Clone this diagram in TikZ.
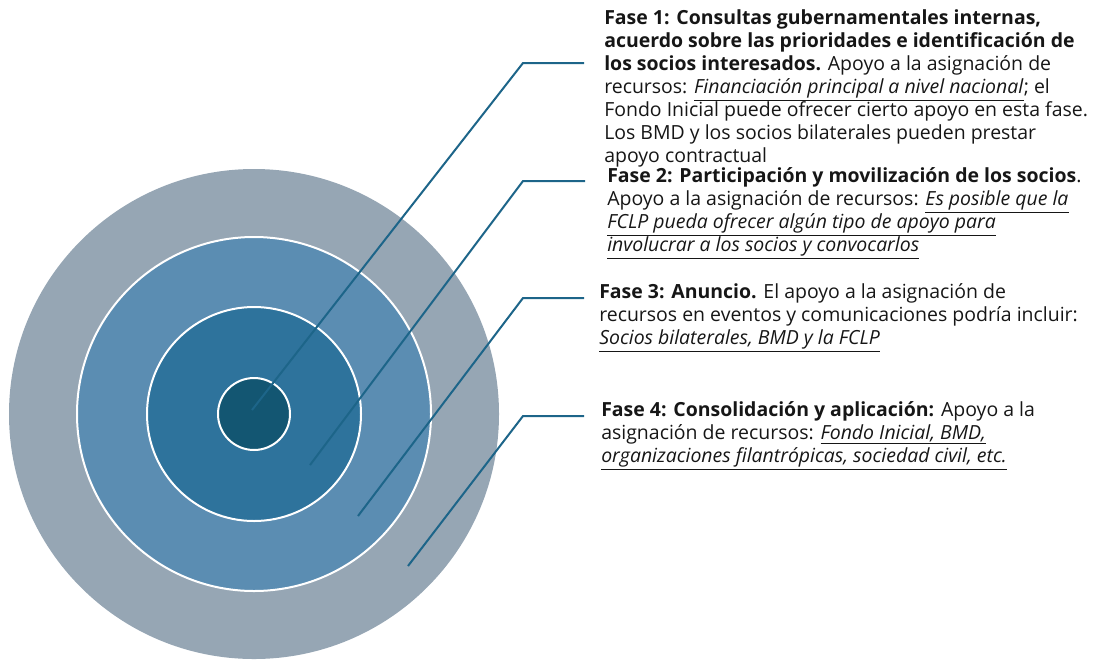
\documentclass[tikz,border=0pt]{standalone}
\usepackage{fontspec}
\setmainfont{Open Sans}
\usetikzlibrary{calc}
\definecolor{anillo1}{HTML}{135672}
\definecolor{anillo2}{HTML}{2E739C}
\definecolor{anillo3}{HTML}{5B8DB2}
\definecolor{anillo4}{HTML}{96A6B4}
\definecolor{guia}{HTML}{1D6589}
\definecolor{texto}{HTML}{161616}
\newcommand{\recurso}[1]{\underline{\textit{#1}}}

\begin{document}
\begin{tikzpicture}[x=0.75pt, y=-0.75pt,
            % x,y in px of the 1094x661 reference
            ring/.style={draw=white, line width=1.5pt},
            leader/.style={draw=guia, line width=1.5pt},
            fase/.style={anchor=north west, inner sep=0pt, align=left, text=texto,
                         font=\fontsize{14.6pt}{17.25pt}\selectfont}
            ]
        \useasboundingbox (0,0) rectangle (1094,661);

        \path coordinate (c) at (254,414);

        % rings, outside in
        \fill[anillo4] (c) circle[radius=245];
        \fill[anillo3] (c) circle[radius=177];
        \draw[ring] (c) circle[radius=177];
        \fill[anillo2] (c) circle[radius=107];
        \draw[ring] (c) circle[radius=107];
        \fill[anillo1] (c) circle[radius=36];
        \draw[ring] (c) circle[radius=36];

        \node[fase] (f1) at (604,8) {\strut\textbf{Fase 1: Consultas gubernamentales internas,}\\
              \textbf{acuerdo sobre las prioridades e identificación de}\\
              \textbf{los socios interesados.} Apoyo a la asignación de\\
              recursos: \recurso{Financiación principal a nivel nacional}; el\\
              Fondo Inicial puede ofrecer cierto apoyo en esta fase.\\
              Los BMD y los socios bilaterales pueden prestar\\
              apoyo contractual};
        \node[fase] (f2) at (607,166) {\strut\textbf{Fase 2: Participación y movilización de los socios}.\\
              Apoyo a la asignación de recursos: \recurso{Es posible que la}\\
              \recurso{FCLP pueda ofrecer algún tipo de apoyo para}\\
              \recurso{involucrar a los socios y convocarlos}};
        \node[fase] (f3) at (599,282) {\strut\textbf{Fase 3: Anuncio.} El apoyo a la asignación de\\
              recursos en eventos y comunicaciones podría incluir:\\
              \recurso{Socios bilaterales, BMD y la FCLP}};
        \node[fase] (f4) at (601,400) {\strut\textbf{Fase 4: Consolidación y aplicación:} Apoyo a la\\
              asignación de recursos: \recurso{Fondo Inicial, BMD,}\\
              \recurso{organizaciones filantrópicas, sociedad civil, etc.}};

        % leader lines: start in ring, knee, free end
        \path coordinate (p1) at (252,410)  coordinate (k1) at (523,63)  coordinate (e1) at (584,63)
              coordinate (p2) at (310,465)  coordinate (k2) at (523,181) coordinate (e2) at (585,181)
              coordinate (p3) at (358,516)  coordinate (k3) at (523,298) coordinate (e3) at (584,298)
              coordinate (p4) at (408,566)  coordinate (k4) at (523,416) coordinate (e4) at (584,416);

        \foreach \i in {1,...,4}
            \draw[leader] (p\i) -- (k\i) -- (e\i);
    \end{tikzpicture}
\end{document}
